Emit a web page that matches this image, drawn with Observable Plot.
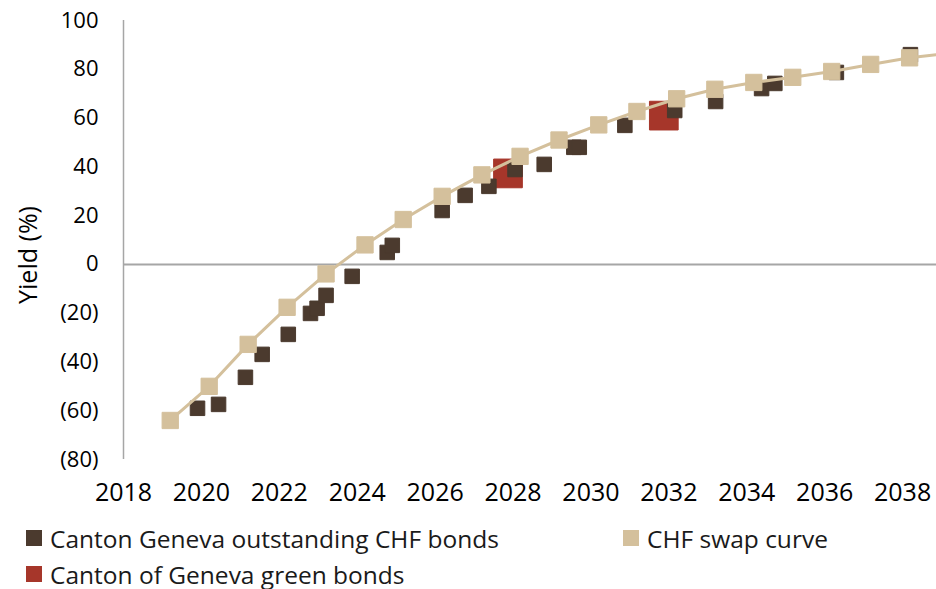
<!DOCTYPE html>
<html>
<head>
<meta charset="utf-8">
<script src="https://cdn.jsdelivr.net/npm/d3@7"></script>
<script src="https://cdn.jsdelivr.net/npm/@observablehq/plot@0.6"></script>
<style>
  body { margin: 0; background: #fff; font-family: "Open Sans", sans-serif; }
  #wrap { position: relative; width: 936px; height: 589px; overflow: hidden; }
  .leg { position: absolute; display: flex; align-items: center; font-size: 24.5px; color: #1a1a1a; white-space: nowrap; }
  .sw { width: 16px; height: 16px; margin-right: 8px; }
  .ytitle { position: absolute; left: 27px; top: 255px; transform: translate(-50%, -50%) rotate(-90deg); font-size: 25px; color: #000; white-space: nowrap; }
  #chart svg text { font-weight: 500; }
</style>
</head>
<body>
<div id="wrap">
  <div id="chart"></div>
  <div class="ytitle">Yield (%)</div>
</div>
<script>
// Data
const swapYears  = [2019.2, 2020.2, 2021.2, 2022.2, 2023.2, 2024.2, 2025.18, 2026.18, 2027.2, 2028.18, 2029.18, 2030.2, 2031.18, 2032.2, 2033.18, 2034.18, 2035.18, 2036.18, 2037.18, 2038.18, 2039.18];
const swapYields = [-64, -50, -32.8, -17.6, -3.9, 8, 18.4, 27.9, 36.7, 44.3, 51, 57.2, 62.7, 67.9, 71.8, 74.6, 76.7, 79.1, 82, 84.7, 86.6];

const bondYears  = [2019.9, 2020.44, 2021.13, 2021.56, 2022.23, 2022.8, 2022.97, 2023.2, 2023.87, 2024.77, 2024.9, 2026.18, 2026.77, 2027.38, 2028.05, 2028.8, 2029.56, 2029.7, 2030.87, 2032.15, 2033.2, 2034.38, 2034.72, 2036.3, 2038.2];
const bondYields = [-59, -57.4, -46.3, -36.9, -28.7, -20.1, -18, -12.7, -4.9, 4.9, 7.8, 22.1, 28.3, 32, 38.9, 41, 48, 48, 57, 63.1, 66.8, 72.1, 74.2, 78.7, 86];

const greenYears  = [2027.87, 2031.87];
const greenYields = [37.3, 61];

const xTicks = [2018, 2020, 2022, 2024, 2026, 2028, 2030, 2032, 2034, 2036, 2038];
const yTicks = [-80, -60, -40, -20, 0, 20, 40, 60, 80, 100];

const seriesNames = ["Canton Geneva outstanding CHF bonds", "CHF swap curve", "Canton of Geneva green bonds"];
const colors = { bond: "#4b3a2e", swap: "#d4c09c", green: "#a6362a" };

const swap  = swapYears.map((x, i) => ({ x, y: swapYields[i] }));
const bonds = bondYears.map((x, i) => ({ x, y: bondYields[i] }));
const green = greenYears.map((x, i) => ({ x, y: greenYields[i] }));

const chart = Plot.plot({
  width: 936,
  height: 510,
  marginTop: 20,
  marginBottom: 51,
  marginLeft: 123,
  marginRight: 0,
  style: { fontFamily: "Open Sans, sans-serif", background: "#fff", overflow: "visible" },
  x: { domain: [2018, 2038.87], ticks: xTicks, tickFormat: d => String(d), label: null },
  y: { domain: [-80, 100], ticks: yTicks, label: null, tickFormat: d => d < 0 ? `(${-d})` : String(d) },
  marks: [
    Plot.axisY({ ticks: yTicks, tickSize: 0, tickPadding: 25, fontSize: 22, label: null,
                 tickFormat: d => d < 0 ? `(${-d})` : String(d), fill: "#000" }),
    Plot.axisX({ ticks: xTicks, tickSize: 0, tickPadding: 24, fontSize: 25, label: null,
                 tickFormat: d => String(d), fill: "#000" }),
    Plot.ruleX([2018], { stroke: "#a6a6a6", strokeWidth: 1.5 }),
    Plot.ruleY([0], { stroke: "#a6a6a6", strokeWidth: 2 }),
    Plot.dot(green, { x: "x", y: "y", symbol: "square", r: 16.2, fill: colors.green, stroke: colors.green, strokeWidth: 1, strokeLinejoin: "round" }),
    Plot.dot(bonds, { x: "x", y: "y", symbol: "square", r: 8.2, fill: colors.bond, stroke: colors.bond, strokeWidth: 1, strokeLinejoin: "round" }),
    Plot.line(swap, { x: "x", y: "y", stroke: colors.swap, strokeWidth: 3, clip: true }),
    Plot.dot(swap, { x: "x", y: "y", symbol: "square", r: 9.2, fill: colors.swap, stroke: colors.swap, strokeWidth: 1, strokeLinejoin: "round", clip: true })
  ]
});
document.getElementById("chart").appendChild(chart);

// Legend
const legendItems = [
  { name: seriesNames[0], color: colors.bond, left: 26, top: 538 },
  { name: seriesNames[1], color: colors.swap, left: 623, top: 538 },
  { name: seriesNames[2], color: colors.green, left: 26, top: 574 }
];
const wrap = document.getElementById("wrap");
legendItems.forEach(it => {
  const d = document.createElement("div");
  d.className = "leg";
  d.style.left = it.left + "px";
  d.style.top = (it.top - 17) + "px";
  d.style.height = "34px";
  d.innerHTML = `<div class="sw" style="background:${it.color}"></div><span>${it.name}</span>`;
  wrap.appendChild(d);
});
</script>
</body>
</html>
